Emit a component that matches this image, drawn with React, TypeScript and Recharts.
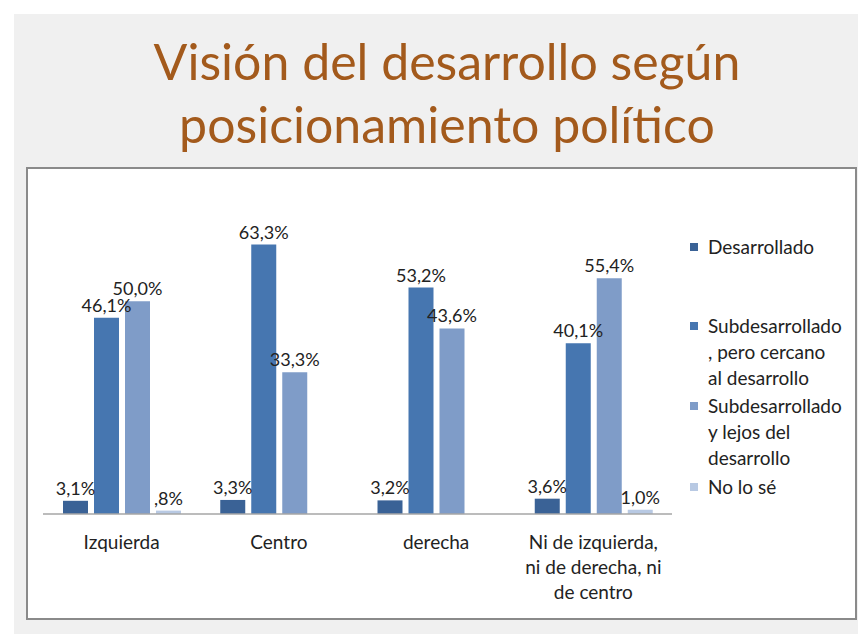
import { BarChart, Bar, XAxis, YAxis, Legend, LabelList } from 'recharts';

const categories = ['Izquierda', 'Centro', 'derecha', 'Ni de izquierda, ni de derecha, ni de centro'];
const tickLines = [['Izquierda'], ['Centro'], ['derecha'], ['Ni de izquierda,', 'ni de derecha, ni', 'de centro']];

const seriesNames = [
  'Desarrollado',
  'Subdesarrollado, pero cercano al desarrollo',
  'Subdesarrollado y lejos del desarrollo',
  'No lo sé',
];
const legendLines = [
  ['Desarrollado'],
  ['Subdesarrollado', ', pero cercano', 'al desarrollo'],
  ['Subdesarrollado', 'y lejos del', 'desarrollo'],
  ['No lo sé'],
];
const desarrollado = [3.1, 3.3, 3.2, 3.6];
const cercano = [46.1, 63.3, 53.2, 40.1];
const lejos = [50.0, 33.3, 43.6, 55.4];
const noLoSe = [0.8, null, null, 1.0];

const colors = ['#3a6296', '#4676b0', '#7f9cc8', '#b8c9e3'];
const keys = ['d', 'c', 'l', 'n'];

const data = categories.map((name, i) => ({
  name,
  d: desarrollado[i],
  c: cercano[i],
  l: lejos[i],
  n: noLoSe[i],
}));

const FONT = 'Lato, "Open Sans", sans-serif';

const fmt = (v: any) => {
  if (v === null || v === undefined) return '';
  let s = Number(v).toFixed(1).replace('.', ',');
  if (s.startsWith('0')) s = s.slice(1);
  return s + '%';
};

const Tick = ({ x, y, payload }: any) => {
  const lines = tickLines[payload.index] || [payload.value];
  return (
    <g>
      {lines.map((t, i) => (
        <text
          key={i}
          x={x}
          y={y + 19 + i * 25}
          textAnchor="middle"
          dominantBaseline="central"
          fontSize={19}
          fontFamily={FONT}
          fill="#222"
        >
          {t}
        </text>
      ))}
    </g>
  );
};

const legendMargins = [0, 53, 2, 3];

const LegendContent = () => (
  <div style={{ fontFamily: FONT, fontSize: 19, color: '#222', lineHeight: '26px' }}>
    {legendLines.map((lines, i) => (
      <div key={i} style={{ display: 'flex', marginTop: legendMargins[i] }}>
        <div style={{ width: 8, height: 8, background: colors[i], marginTop: 9, marginRight: 10, flexShrink: 0 }} />
        <div>
          {lines.map((t, j) => (
            <div key={j} style={{ whiteSpace: 'nowrap' }}>{t}</div>
          ))}
        </div>
      </div>
    ))}
  </div>
);

export default function App() {
  return (
    <div style={{ position: 'relative', width: 858, height: 626, background: '#fff', fontFamily: FONT }}>
      <div style={{ position: 'absolute', left: 6, top: 6, width: 852, height: 620, background: '#f0f0f0' }} />
      <div
        style={{
          position: 'absolute',
          left: 0,
          width: 858,
          top: 22,
          textAlign: 'center',
          color: '#a35a1c',
          fontSize: 50,
          lineHeight: '63px',
          paddingLeft: 10,
        }}
      >
        Visión del desarrollo según
        <br />
        posicionamiento político
      </div>
      <div
        style={{
          position: 'absolute',
          left: 18,
          top: 159,
          width: 827,
          height: 449,
          border: '2px solid #8a8a8a',
          background: '#fff',
        }}
      >
        <BarChart
          width={827}
          height={449}
          data={data}
          margin={{ top: 47, right: 23, bottom: 14, left: 15 }}
          barSize={25}
          barGap={6}
        >
          <XAxis
            dataKey="name"
            tick={<Tick />}
            tickLine={false}
            axisLine={{ stroke: '#a6a6a6', strokeWidth: 1.5 }}
            height={90}
            interval={0}
          />
          <YAxis hide domain={[0, 70]} />
          <Legend
            content={<LegendContent />}
            layout="vertical"
            align="right"
            verticalAlign="top"
            wrapperStyle={{ position: 'absolute', left: 662, top: 65, width: 160 }}
          />
          {keys.map((k, i) => (
            <Bar key={k} dataKey={k} name={seriesNames[i]} fill={colors[i]} isAnimationActive={false}>
              <LabelList
                dataKey={k}
                position="top"
                offset={6}
                formatter={fmt}
                fontSize={18}
                fontFamily={FONT}
                fill="#222"
              />
            </Bar>
          ))}
        </BarChart>
      </div>
    </div>
  );
}
